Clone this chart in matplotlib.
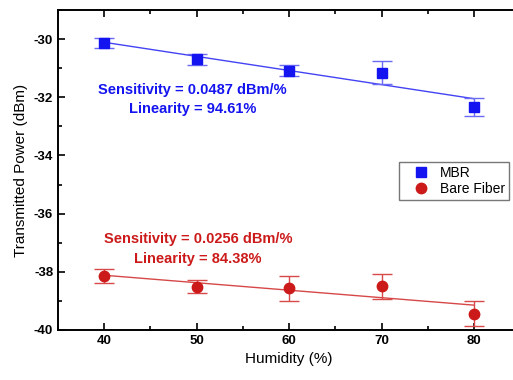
import numpy as np
import matplotlib
matplotlib.use("Agg")
import matplotlib.pyplot as plt
from matplotlib.ticker import MultipleLocator

plt.rcParams['font.family'] = ['Liberation Sans', 'DejaVu Sans']
plt.rcParams['axes.unicode_minus'] = False

humidity = [40, 50, 60, 70, 80]
mbr = [-30.13, -30.70, -31.09, -31.15, -32.33]
mbr_err = [0.18, 0.18, 0.19, 0.40, 0.32]
bare = [-38.15, -38.51, -38.56, -38.50, -39.44]
bare_err = [0.23, 0.22, 0.43, 0.43, 0.42]

blue = '#1414f0'
red = '#cc1a1a'

fig = plt.figure(figsize=(5.13, 3.80), dpi=100)
ax = fig.add_axes([58/513, 50/380, (520.3-58)/513, 320/380])

x = np.array(humidity)
for y, e, c, ec, m, ms, lab in [
        (mbr, mbr_err, blue, '#6a6af5', 's', 6.5, 'MBR'),
        (bare, bare_err, red, '#d84a4a', 'o', 7.5, 'Bare Fiber')]:
    p = np.polyfit(x, y, 1)
    ax.plot(x, np.polyval(p, x), color=c, lw=1.0, alpha=0.8, zorder=2)
    ax.errorbar(x, y, yerr=e, fmt='none', ecolor=ec, elinewidth=1.0,
                capsize=7, capthick=1.0, zorder=3)
    ax.plot(x, y, linestyle='none', marker=m, ms=ms, color=c,
            label=lab, zorder=4)

ax.set_xlim(35, 85)
ax.set_ylim(-40, -29)
ax.xaxis.set_major_locator(MultipleLocator(10))
ax.xaxis.set_minor_locator(MultipleLocator(5))
ax.yaxis.set_major_locator(MultipleLocator(2))
ax.yaxis.set_minor_locator(MultipleLocator(1))
ax.tick_params(which='both', direction='in', top=True, right=True,
               width=1.2, labelsize=9.5)
ax.tick_params(which='major', length=5)
ax.tick_params(which='minor', length=3)
for lbl in ax.get_xticklabels() + ax.get_yticklabels():
    lbl.set_fontweight('bold')
for s in ax.spines.values():
    s.set_linewidth(1.4)

ax.set_xlabel('Humidity (%)', fontsize=11)
ax.set_ylabel('Transmitted Power (dBm)', fontsize=11)

def fig_text(px, py, s, c):
    fig.text(px/513, 1 - py/380, s, color=c, fontsize=10.5, fontweight='bold',
             ha='center', va='center')

fig_text(192.5, 90, 'Sensitivity = 0.0487 dBm/%', blue)
fig_text(192.5, 109, 'Linearity = 94.61%', blue)
fig_text(198, 238.5, 'Sensitivity = 0.0256 dBm/%', red)
fig_text(197.5, 258.5, 'Linearity = 84.38%', red)

leg = ax.legend(loc='upper left', bbox_to_anchor=(399/513, 1 - 162.5/380),
                bbox_transform=fig.transFigure, fontsize=10, frameon=True,
                fancybox=False, edgecolor='#555555', handlelength=2.6,
                handletextpad=0.1, borderpad=0.25, labelspacing=0.15,
                borderaxespad=0)
leg.get_frame().set_linewidth(1.0)

fig.savefig('out.png', dpi=100)
